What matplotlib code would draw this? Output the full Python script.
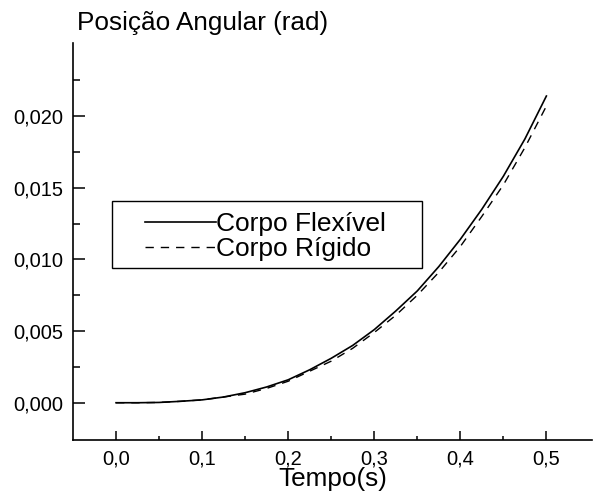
import matplotlib
matplotlib.use("Agg")
import matplotlib.pyplot as plt
from matplotlib.patches import Rectangle
from matplotlib.ticker import FixedLocator, FuncFormatter

plt.rcParams['font.family'] = ['Liberation Sans', 'DejaVu Sans']

# tempo (s) e posicao angular (rad)
tempo = [0.000, 0.025, 0.050, 0.075, 0.100, 0.125, 0.150, 0.175, 0.200, 0.225,
         0.250, 0.275, 0.300, 0.325, 0.350, 0.375, 0.400, 0.425, 0.450, 0.475, 0.500]
flexivel = [0.0, 0.0, 0.00002, 0.0001, 0.0002, 0.0004, 0.0007, 0.0011, 0.0016, 0.0023,
            0.0031, 0.0040, 0.0051, 0.0064, 0.0078, 0.0095, 0.0114, 0.0135, 0.0158, 0.0184, 0.0214]
rigido = [0.0, 0.0, 0.00002, 0.0001, 0.0002, 0.0004, 0.0006, 0.0010, 0.0015, 0.0022,
          0.0029, 0.0038, 0.0049, 0.0061, 0.0075, 0.0091, 0.0109, 0.0130, 0.0152, 0.0178, 0.0207]

x_ticks = [0.0, 0.1, 0.2, 0.3, 0.4, 0.5]
x_minor = [0.05, 0.15, 0.25, 0.35, 0.45]
y_ticks = [0.000, 0.005, 0.010, 0.015, 0.020]
y_minor = [0.0025, 0.0075, 0.0125, 0.0175, 0.0225]

fig = plt.figure(figsize=(5.96, 4.93), dpi=100)
ax = fig.add_axes([73/596, 1 - 440/493, 519/596, 397/493])

ax.plot(tempo, flexivel, color='black', lw=1.2, label='Corpo Flexível')
ax.plot(tempo, rigido, color='black', lw=1.0, dashes=(6, 5), label='Corpo Rígido')

ax.set_xlim(-0.05, 0.553)
ax.set_ylim(-0.0026, 0.0251)

ax.spines['top'].set_visible(False)
ax.spines['right'].set_visible(False)
for s in ('left', 'bottom'):
    ax.spines[s].set_linewidth(1.2)

ax.xaxis.set_major_locator(FixedLocator(x_ticks))
ax.xaxis.set_minor_locator(FixedLocator(x_minor))
ax.yaxis.set_major_locator(FixedLocator(y_ticks))
ax.yaxis.set_minor_locator(FixedLocator(y_minor))
ax.xaxis.set_major_formatter(FuncFormatter(lambda v, p: f"{v:.1f}".replace('.', ',')))
ax.yaxis.set_major_formatter(FuncFormatter(lambda v, p: f"{v:.3f}".replace('.', ',')))

ax.tick_params(axis='x', which='major', direction='in', length=6.5, width=1.1, labelsize=14.5, pad=7)
ax.tick_params(axis='x', which='minor', direction='in', length=3, width=1.1)
ax.tick_params(axis='y', which='major', direction='in', length=8.5, width=1.1, labelsize=14.5, pad=7)
ax.tick_params(axis='y', which='minor', direction='in', length=5, width=1.1)

ax.set_xlabel('Tempo(s)', fontsize=18.8, labelpad=-1)
fig.text(77/596, 1 - 23/493, 'Posição Angular (rad)', fontsize=18.8, va='center', ha='left')

# moldura da legenda
ax.add_patch(Rectangle((0.075, 0.433), 0.597, 0.169, transform=ax.transAxes,
                       fill=True, facecolor='white', edgecolor='black', lw=1.0, zorder=3))
leg = ax.legend(loc='center left', bbox_to_anchor=(0.139, 0.5126), frameon=False,
                fontsize=19, handlelength=2.7, handletextpad=0.0, borderpad=0,
                borderaxespad=0, labelspacing=0.05)
leg.set_zorder(4)

fig.savefig('out.png', dpi=100)
